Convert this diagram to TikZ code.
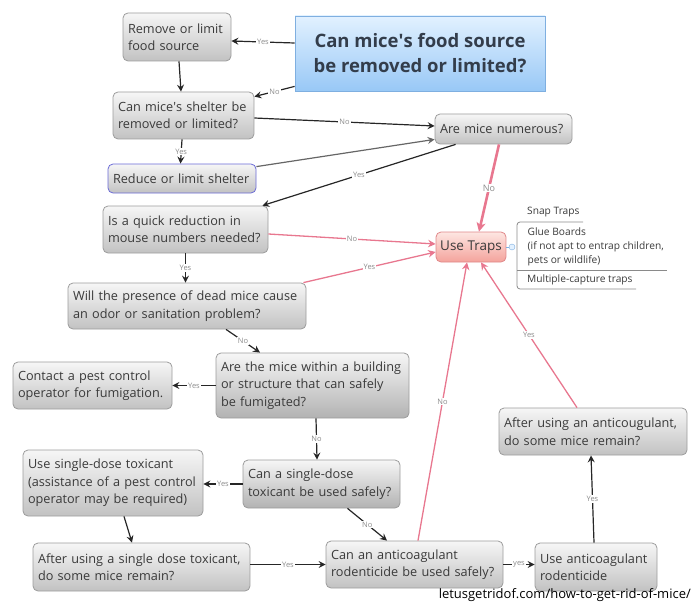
\documentclass[tikz,border=0pt]{standalone}
\usepackage{fontspec}
\setmainfont{Open Sans}
\newfontfamily\aposfont{Open Sans}
\usetikzlibrary{arrows.meta}
\newcommand\apos{{\aposfont\char"0027}}
\definecolor{txt}{HTML}{3A3A3A}
\definecolor{boxline}{HTML}{9C9C9C}
\definecolor{boxtop}{HTML}{F6F6F6}
\definecolor{boxbot}{HTML}{C2C2C2}
\definecolor{boxbotdark}{HTML}{B2B2B2}
\definecolor{titletop}{HTML}{E2F1FF}
\definecolor{titlebot}{HTML}{98C8F6}
\definecolor{titleline}{HTML}{7FAFE0}
\definecolor{titletxt}{HTML}{333D4B}
\definecolor{traptop}{HTML}{FDE6E2}
\definecolor{trapbot}{HTML}{F4A39C}
\definecolor{trapline}{HTML}{E0888A}
\definecolor{pinkline}{HTML}{E8778F}
\definecolor{labgray}{HTML}{8C8C8C}
\definecolor{redline}{HTML}{6A6AD6}
\definecolor{listline}{HTML}{8A8A8A}
\begin{document}
\begin{tikzpicture}[x=1pt,y=-1pt,
  box/.style={draw=boxline, line width=0.8pt, rounded corners=5pt, top color=boxtop, bottom color=boxbot,
    text=txt, font=\fontsize{12.7}{17.5}\selectfont, align=left, inner xsep=5pt, inner ysep=0pt},
  darkbox/.style={box, bottom color=boxbotdark},
  lab/.style={fill=white, inner sep=1pt, text=labgray, font=\fontsize{7.5}{8}\selectfont},
  arr/.style={line width=1.2pt, draw=black!85, -{Stealth[length=7pt,width=7pt,inset=2.5pt]}},
  parr/.style={line width=1.3pt, draw=pinkline, -{Stealth[length=7.5pt,width=7.5pt,inset=2.5pt]}},
]
\useasboundingbox (0,0) rectangle (700,604);

% nodes
\node[draw=titleline, line width=0.8pt, top color=titletop, bottom color=titlebot, text=titletxt,
  font=\fontsize{18.5}{25}\selectfont\bfseries, align=center, minimum width=250pt, minimum height=75pt, inner sep=0pt]
  (title) at (420,53.5) {Can mice\apos s food source\\be removed or limited?};
\node[box, minimum width=108pt, text width=98pt, minimum height=48pt] (rem) at (177,37) {Remove or limit\\food source};
\node[box, minimum width=141pt, text width=131pt, minimum height=47pt] (shel) at (183.5,115.5) {Can mice\apos s shelter be\\removed or limited?};
\node[box, draw=redline, minimum width=148pt, text width=138pt, minimum height=29pt] (red) at (182,178.5) {Reduce or limit shelter};
\node[box, minimum width=137pt, text width=127pt, minimum height=30pt] (num) at (503.5,129) {Are mice numerous?};
\node[box, minimum width=165pt, text width=155pt, minimum height=47pt] (quick) at (185.5,229.5) {Is a quick reduction in\\mouse numbers needed?};
\node[box, minimum width=238pt, text width=228pt, minimum height=46pt] (will) at (187,306) {Will the presence of dead mice cause\\an odor or sanitation problem?};
\node[box, draw=trapline, top color=traptop, bottom color=trapbot, font=\fontsize{13.5}{17}\selectfont,
  align=center, minimum width=70pt, minimum height=30pt, inner sep=0pt] (traps) at (471,247) {Use Traps};
\node[darkbox, minimum width=193pt, text width=183pt, minimum height=65pt] (fum) at (312.5,385.5) {Are the mice within a building\\or structure that can safely\\be fumigated?};
\node[box, minimum width=159pt, text width=149pt, minimum height=47pt] (contact) at (92.5,385.5) {Contact a pest control\\operator for fumigation.};
\node[box, minimum width=180pt, text width=170pt, minimum height=66pt] (usd) at (113,483) {Use single-dose toxicant\\(assistance of a pest control\\operator may be required)};
\node[darkbox, minimum width=157pt, text width=147pt, minimum height=48pt] (sdq) at (321.5,484) {Can a single-dose\\toxicant be used safely?};
\node[box, minimum width=217pt, text width=207pt, minimum height=48pt] (after1) at (141.5,567) {After using a single dose toxicant,\\do some mice remain?};
\node[box, minimum width=177pt, text width=167pt, minimum height=47pt] (acq) at (414.5,564.5) {Can an anticoagulant\\rodenticide be used safely?};
\node[box, minimum width=122pt, text width=112pt, minimum height=48pt] (uac) at (596,567) {Use anticoagulant\\rodenticide};
\node[box, minimum width=188pt, text width=178pt, minimum height=47pt] (after2) at (593,431.5) {After using an anticougulant,\\do some mice remain?};

% trap list
\node[circle, draw=titleline, fill=titletop, minimum size=6pt, inner sep=0pt] (col) at (512,247) {};
\draw[draw=titleline, line width=0.6pt] (traps.east) -- (col.west);
\draw[listline, line width=0.8pt, rounded corners=3pt] (583,222) -- (517,222) -- (517,289) -- (636,289);
\draw[listline, line width=0.8pt] (517,270) -- (667,270);
\begin{scope}[every node/.style={anchor=west, text=txt, inner sep=0pt, font=\fontsize{10.2}{14}\selectfont, align=left}]
\node (snap) at (527,212) {Snap Traps};
\node (glue) at (527.5,247) {Glue Boards\\(if not apt to entrap children,\\pets or wildlife)};
\node (multi) at (527,280) {Multiple-capture traps};
\end{scope}

% connectors
\draw[arr] ([yshift=10.5pt]title.west) -- node[lab]{Yes} ([yshift=-4pt]rem.east);
\draw[arr] ([yshift=5pt]title.south west) -- node[lab]{No} ([yshift=-5pt]shel.north east);
\draw[arr] ([xshift=2pt]rem.south) -- ([xshift=-2.5pt]shel.north);
\draw[arr] ([yshift=-2.5pt]shel.east) -- node[lab]{No} ([yshift=3pt]num.west);
\draw[arr] ([xshift=-1.5pt]shel.south) -- node[lab]{Yes} ([xshift=-1.5pt]red.north);
\draw[arr, draw=black!60] ([yshift=-3pt]red.north east) -- ([yshift=5pt]num.south west);
\draw[arr] ([xshift=21pt]num.south west) -- node[lab]{Yes} ([xshift=-6pt]quick.north east);
\draw[parr, line width=2.6pt, -{Stealth[length=9pt,width=9pt,inset=2.5pt]}] ([xshift=-4.5pt]num.south) -- node[lab, font=\fontsize{9}{10}\selectfont]{No} ([xshift=8pt]traps.north);
\draw[parr] ([yshift=-4.5pt]quick.east) -- node[lab]{No} ([yshift=3pt]traps.west);
\draw[arr] (quick.south) -- node[lab]{Yes} (quick.south |- will.north);
\draw[parr] ([xshift=-3pt]will.north east) -- node[lab]{Yes} ([yshift=-5pt]traps.west);
\draw[arr] ([xshift=39pt]will.south) -- node[lab]{No} ([xshift=-52.5pt]fum.north);
\draw[arr] (fum.west) -- node[lab]{Yes} (contact.east);
\draw[arr] ([xshift=3.5pt]fum.south) -- node[lab]{No} ([xshift=-4.5pt]sdq.north);
\draw[arr] (sdq.west) -- node[lab]{Yes} (usd.east |- sdq.west);
\draw[arr] ([xshift=11pt]usd.south) -- ([xshift=-9.5pt]after1.north);
\draw[arr] (after1.east |- acq.west) -- node[lab]{Yes} (acq.west);
\draw[arr] ([xshift=26pt]sdq.south) -- node[lab]{No} ([xshift=-27.5pt]acq.north);
\draw[parr] ([xshift=3.5pt]acq.north) -- node[lab]{No} ([xshift=-4pt]traps.south);
\draw[arr] (acq.east) -- node[lab]{yes} (uac.west |- acq.east);
\draw[arr] ([xshift=-2pt]uac.north) -- node[lab]{Yes} ([xshift=-2pt]after2.south);
\draw[parr] ([xshift=-16pt]after2.north) -- node[lab]{Yes} ([xshift=10pt]traps.south);

% source
\node[anchor=east, text=black, inner sep=0pt, font=\fontsize{13}{15}\selectfont] (url) at (691,595) {letusgetridof.com/how-to-get-rid-of-mice/};
\end{tikzpicture}
\end{document}
